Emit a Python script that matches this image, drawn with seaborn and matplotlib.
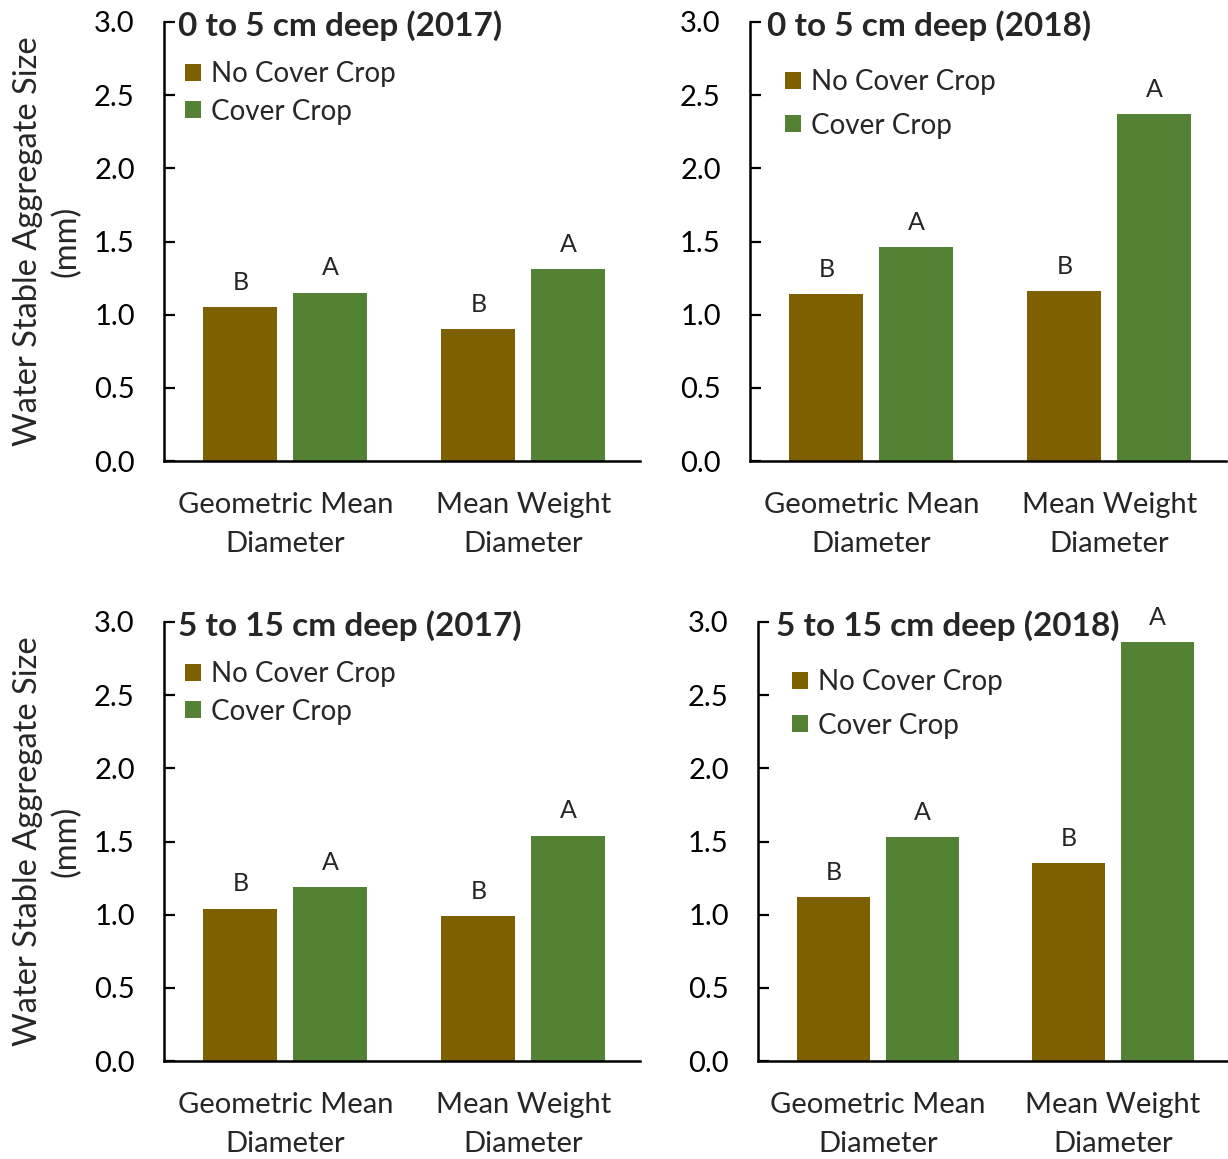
import matplotlib
matplotlib.use("Agg")
import matplotlib.pyplot as plt
import pandas as pd
import seaborn as sns

# Aggregate stability by treatment, depth and year (mm)
categories = ["Geometric Mean\nDiameter", "Mean Weight\nDiameter"]
treatments = ["No Cover Crop", "Cover Crop"]

no_cover_0_5_2017 = [1.05, 0.90]
cover_0_5_2017 = [1.15, 1.31]
no_cover_0_5_2018 = [1.14, 1.16]
cover_0_5_2018 = [1.46, 2.37]
no_cover_5_15_2017 = [1.04, 0.99]
cover_5_15_2017 = [1.19, 1.54]
no_cover_5_15_2018 = [1.12, 1.35]
cover_5_15_2018 = [1.53, 2.86]

# Significance letters (same for every panel)
letters_no_cover = ["B", "B"]
letters_cover = ["A", "A"]

titles = ["0 to 5 cm deep (2017)", "0 to 5 cm deep (2018)",
          "5 to 15 cm deep (2017)", "5 to 15 cm deep (2018)"]
yticks = [0.0, 0.5, 1.0, 1.5, 2.0, 2.5, 3.0]

panels = [
    (no_cover_0_5_2017, cover_0_5_2017),
    (no_cover_0_5_2018, cover_0_5_2018),
    (no_cover_5_15_2017, cover_5_15_2017),
    (no_cover_5_15_2018, cover_5_15_2018),
]

palette = {"No Cover Crop": "#7F6000", "Cover Crop": "#548235"}

sns.set_style("ticks")
plt.rcParams["font.family"] = ["Lato", "DejaVu Sans"]

W, H = 1228, 1159
fig = plt.figure(figsize=(W / 100, H / 100), dpi=100)

# axes boxes in pixels: left, right, top, bottom
boxes = [
    (164, 640, 22, 461),
    (750, 1226, 22, 461),
    (164, 640, 622, 1061),
    (758, 1228, 622, 1061),
]
legend_spacing = [0.42, 0.64, 0.42, 0.64]
legend_anchor = [(0.044, 0.911), (0.0735, 0.893), (0.044, 0.911), (0.072, 0.893)]
title_x = [0.03, 0.035, 0.03, 0.038]

for i, ((ncc, cc), box) in enumerate(zip(panels, boxes)):
    l, r, t, b = box
    ax = fig.add_axes([l / W, 1 - b / H, (r - l) / W, (b - t) / H])
    df = pd.DataFrame({
        "Metric": categories * 2,
        "Treatment": [treatments[0]] * 2 + [treatments[1]] * 2,
        "Size": list(ncc) + list(cc),
    })
    sns.barplot(data=df, x="Metric", y="Size", hue="Treatment",
                hue_order=treatments, order=categories, palette=palette,
                width=0.756, gap=0.177, errorbar=None, ax=ax,
                saturation=1, linewidth=0)
    ax.set_ylim(0, 3.0)
    ax.set_xlim(-0.51, 1.49)
    ax.set_yticks(yticks)
    ax.set_yticklabels([f"{v:.1f}" for v in yticks])
    ax.tick_params(axis="y", direction="in", length=8, width=1.6,
                   labelsize=21, pad=21, colors="black")
    ax.tick_params(axis="x", length=0, labelsize=21, pad=22.5)
    for lab in ax.get_xticklabels():
        lab.set_linespacing(1.62)
    sns.despine(ax=ax)
    for s in ("left", "bottom"):
        ax.spines[s].set_linewidth(1.8)
        ax.spines[s].set_color("black")
    ax.set_xlabel("")
    if i % 2 == 0:
        ax.set_ylabel("Water Stable Aggregate Size\n(mm)", fontsize=23.5,
                      labelpad=9, linespacing=1.34)
    else:
        ax.set_ylabel("")

    # letters above bars
    for cont, labs in zip(ax.containers, (letters_no_cover, letters_cover)):
        for patch, lab in zip(cont, labs):
            ax.annotate(lab, (patch.get_x() + patch.get_width() / 2,
                              patch.get_height()),
                        xytext=(0, 12.5), textcoords="offset points",
                        ha="center", va="baseline", fontsize=18)

    ax.text(title_x[i], 0.991, titles[i], transform=ax.transAxes,
            fontsize=24, fontweight="bold", ha="left", va="center")

    ax.legend(loc="upper left", bbox_to_anchor=legend_anchor[i],
              frameon=False, fontsize=20, handlelength=0.57,
              handleheight=0.57, handletextpad=0.38, borderpad=0,
              borderaxespad=0, labelspacing=legend_spacing[i])

fig.savefig("out.png", dpi=100)
